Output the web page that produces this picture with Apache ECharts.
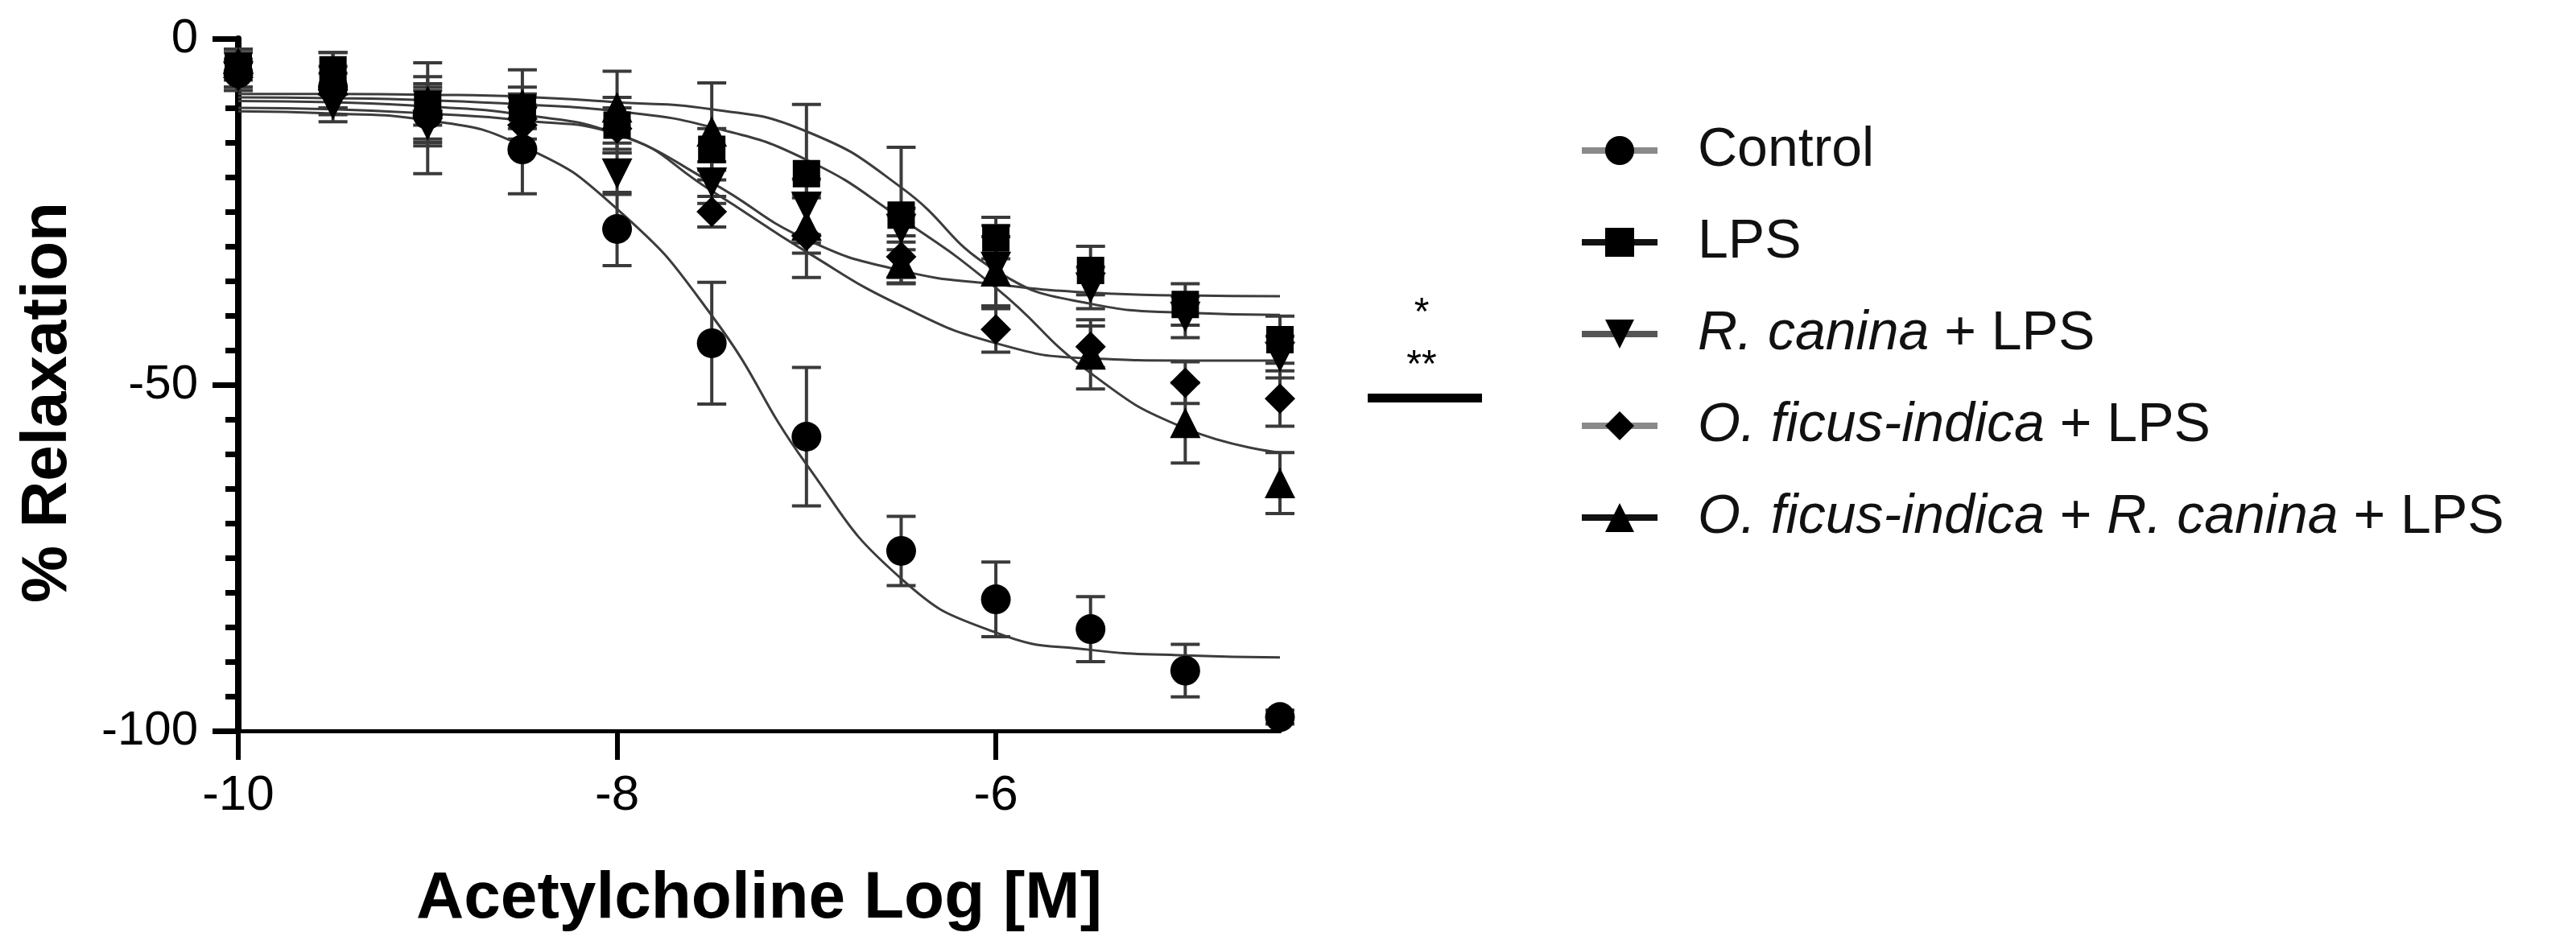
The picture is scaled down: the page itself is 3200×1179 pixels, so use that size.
<!DOCTYPE html>
<html>
<head>
<meta charset="utf-8">
<script src="https://cdn.jsdelivr.net/npm/echarts@6/dist/echarts.min.js"></script>
<style>
  html, body { margin: 0; padding: 0; background: #fff; }
  #chart { width: 3200px; height: 1179px; }
</style>
</head>
<body>
<div id="chart"></div>
<script>
// log concentrations where the means were measured
var pointX = [-10, -9.5, -9, -8.5, -8, -7.5, -7, -6.5, -6, -5.5, -5, -4.5];

// means and SEM
var controlMean = [-5, -7, -11, -16, -27.5, -44, -57.5, -74, -81, -85.3, -91.3, -98];
var controlSem  = [2, 3, 4, 6.4, 5.3, 8.8, 10, 5, 5.4, 4.7, 3.8, 1];
var lpsMean = [-4, -4.5, -9.5, -10, -12.5, -16, -19.5, -25.5, -28.8, -33.5, -38.4, -43.5];
var lpsSem  = [2, 2.5, 3, 3, 4, 3, 10, 9.8, 3, 3.5, 3, 3.4];
var rcMean = [-5.5, -9.5, -12.5, -12, -19.5, -20.8, -24.3, -27.5, -33, -36, -40.2, -46];
var rcSem  = [2, 2.5, 7, 4, 3, 3, 4, 3, 6, 3, 3, 3];
var ofMean = [-5, -8, -11.5, -12.5, -13, -25, -28.5, -31.5, -42, -44.5, -49.7, -52];
var ofSem  = [2, 3, 4, 4, 3, 2.2, 6, 3, 3.3, 3, 3, 4];
var comboMean = [-3.5, -6, -9, -9.5, -9.9, -13.4, -27, -32.4, -33.6, -45.6, -55.5, -64.2];
var comboSem  = [2, 4, 5.5, 5, 5.2, 7, 4, 3, 5, 5, 5.8, 4.4];

// fitted curves
var curveX = [-10, -9.5, -9, -8.5, -8, -7.5, -7, -6.5, -6, -5.5, -5, -4.5];
var controlFit = [-10.5, -10.8, -11.8, -15.5, -24.6, -40, -61.5, -78, -85.8, -88.3, -89.1, -89.4];
var lpsFit = [-8, -8, -8.1, -8.4, -9.2, -10.2, -13.4, -21.5, -33.5, -38.3, -39.6, -39.9];
var rcFit = [-9, -9.2, -9.8, -11, -13.8, -20.8, -29, -33.5, -35.5, -36.7, -37.1, -37.2];
var ofFit = [-10, -10.2, -10.8, -11.8, -13.8, -22, -30.8, -38.6, -44, -46.2, -46.5, -46.5];
var comboFit = [-8.5, -8.6, -8.9, -9.5, -10.5, -12.8, -17.5, -26, -36, -48.3, -56.3, -59.8];

var xTicks = [-10, -8, -6];

var groups = [
  { name: 'Control', mean: controlMean, sem: controlSem, fit: controlFit, symbol: 'circle', size: 37, rotate: 0, legendLine: '#8a8a8a' },
  { name: 'LPS', mean: lpsMean, sem: lpsSem, fit: lpsFit, symbol: 'rect', size: 34, rotate: 0, legendLine: '#111' },
  { name: 'R. canina + LPS', mean: rcMean, sem: rcSem, fit: rcFit, symbol: 'triangle', size: 38, rotate: 180, legendLine: '#555' },
  { name: 'O. ficus-indica + LPS', mean: ofMean, sem: ofSem, fit: ofFit, symbol: 'diamond', size: 38, rotate: 0, legendLine: '#8a8a8a' },
  { name: 'O. ficus-indica + R. canina + LPS', mean: comboMean, sem: comboSem, fit: comboFit, symbol: 'triangle', size: 38, rotate: 0, legendLine: '#111' }
];

var font = 'Liberation Sans, Arial, sans-serif';

function pairs(xs, ys) {
  return xs.map(function (x, i) { return [x, ys[i]]; });
}

var series = [];
// curves first so the legend takes its icon from them
groups.forEach(function (g) {
  series.push({
    name: g.name,
    type: 'line',
    data: pairs(curveX, g.fit),
    smooth: 0.5,
    showSymbol: false,
    symbol: g.symbol,
    symbolRotate: g.rotate,
    itemStyle: { color: '#000' },
    lineStyle: { color: '#3c3c3c', width: 3 },
    z: 2
  });
});
groups.forEach(function (g) {
  series.push({
    name: g.name,
    type: 'custom',
    data: pointX.map(function (x, i) { return [x, g.mean[i] - g.sem[i], g.mean[i] + g.sem[i]]; }),
    encode: { x: 0, y: [1, 2] },
    z: 3,
    renderItem: function (params, api) {
      var hi = api.coord([api.value(0), api.value(2)]);
      var lo = api.coord([api.value(0), api.value(1)]);
      var w = 18;
      var st = { stroke: '#3a3a3a', lineWidth: 4 };
      return {
        type: 'group',
        children: [
          { type: 'line', shape: { x1: hi[0], y1: hi[1], x2: lo[0], y2: lo[1] }, style: st },
          { type: 'line', shape: { x1: hi[0] - w, y1: hi[1], x2: hi[0] + w, y2: hi[1] }, style: st },
          { type: 'line', shape: { x1: lo[0] - w, y1: lo[1], x2: lo[0] + w, y2: lo[1] }, style: st }
        ]
      };
    }
  });
});
groups.forEach(function (g) {
  series.push({
    name: g.name,
    type: 'scatter',
    data: pairs(pointX, g.mean),
    symbol: g.symbol,
    symbolSize: g.size,
    symbolRotate: g.rotate,
    itemStyle: { color: '#000', opacity: 1 },
    z: 4
  });
});

var chart = echarts.init(document.getElementById('chart'));
chart.setOption({
  backgroundColor: '#fff',
  animation: false,
  grid: { left: 296, right: 1610, top: 48, bottom: 271 },
  xAxis: {
    type: 'value',
    min: -10,
    max: -4.5,
    interval: 2,
    name: 'Acetylcholine Log [M]',
    nameLocation: 'middle',
    nameGap: 168,
    nameTextStyle: { fontFamily: font, fontSize: 82, fontWeight: 'bold', color: '#000' },
    axisLine: { onZero: false, lineStyle: { color: '#000', width: 5 } },
    axisTick: { length: 36, customValues: xTicks, lineStyle: { color: '#000', width: 6 } },
    axisLabel: { customValues: xTicks, margin: 50, fontFamily: font, fontSize: 62, color: '#000' },
    splitLine: { show: false }
  },
  yAxis: {
    type: 'value',
    min: -100,
    max: 0,
    interval: 50,
    name: '% Relaxation',
    nameLocation: 'middle',
    nameGap: 196,
    nameTextStyle: { fontFamily: font, fontSize: 80, fontWeight: 'bold', color: '#000', padding: [0, 44, 0, 0] },
    axisLine: { onZero: false, lineStyle: { color: '#000', width: 8 } },
    axisTick: { length: 32, lineStyle: { color: '#000', width: 7 } },
    minorTick: { show: true, splitNumber: 10, length: 16, lineStyle: { color: '#000', width: 7 } },
    axisLabel: { margin: 50, fontFamily: font, fontSize: 60, color: '#000' },
    splitLine: { show: false },
    minorSplitLine: { show: false }
  },
  legend: {
    orient: 'vertical',
    left: 1956,
    top: 142,
    itemWidth: 94,
    itemHeight: 45,
    itemGap: 34,
    selectedMode: false,
    lineStyle: { width: 8 },
    data: groups.map(function (g) { return { name: g.name, lineStyle: { color: g.legendLine } }; }),
    formatter: function (name) {
      return '{g|}' + name.replace(/(R\. canina|O\. ficus-indica)/g, '{i|$1}');
    },
    textStyle: {
      fontFamily: font,
      fontSize: 68,
      lineHeight: 80,
      color: '#111',
      rich: {
        g: { width: 45 },
        i: { fontFamily: font, fontSize: 68, lineHeight: 80, fontStyle: 'italic', color: '#111' }
      }
    }
  },
  graphic: [
    { type: 'text', x: 1766, y: 390, style: { text: '*', fontFamily: font, fontSize: 48, fill: '#000', align: 'center', verticalAlign: 'middle' } },
    { type: 'text', x: 1766, y: 455, style: { text: '**', fontFamily: font, fontSize: 48, fill: '#000', align: 'center', verticalAlign: 'middle' } },
    { type: 'rect', shape: { x: 1699, y: 489, width: 142, height: 11 }, style: { fill: '#000' } }
  ],
  series: series
});
</script>
</body>
</html>
